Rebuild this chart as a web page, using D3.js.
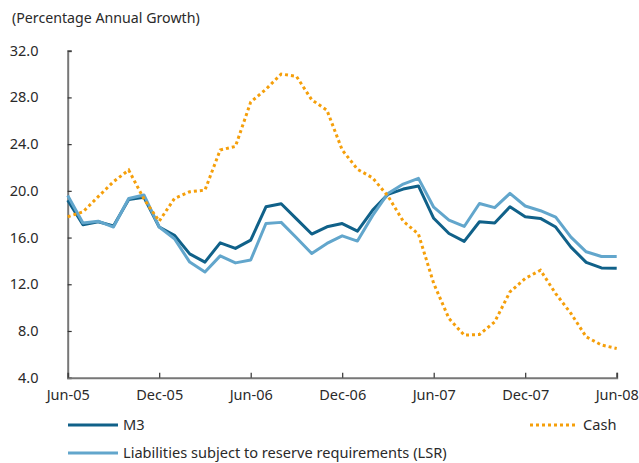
<!DOCTYPE html>
<html>
<head>
<meta charset="utf-8">
<script src="https://cdn.jsdelivr.net/npm/d3@7"></script>
<style>
  html, body { margin: 0; padding: 0; background: #fff; }
  svg { display: block; font-family: "Noto Sans", "Open Sans", sans-serif; }
</style>
</head>
<body>
<svg id="chart" width="639" height="463"></svg>
<script>
// Monthly observations, June 2005 to June 2008
const tickLabels = ["Jun-05", "Dec-05", "Jun-06", "Dec-06", "Jun-07", "Dec-07", "Jun-08"];
const yTicks = [4, 8, 12, 16, 20, 24, 28, 32];

const m3 = [19.2, 17.1, 17.35, 17.0, 19.25, 19.45, 16.9, 16.2, 14.6, 13.9, 15.55, 15.07, 15.78,
            18.63, 18.9, 17.6, 16.3, 16.92, 17.2, 16.55, 18.35, 19.7, 20.15, 20.42, 17.65,
            16.35, 15.67, 17.35, 17.24, 18.63, 17.78, 17.64, 16.9, 15.18, 13.88, 13.4, 13.38];
const lsr = [19.6, 17.25, 17.4, 16.9, 19.35, 19.65, 16.9, 15.9, 13.9, 13.05, 14.43, 13.83, 14.08,
             17.2, 17.3, 15.98, 14.64, 15.5, 16.15, 15.7, 17.9, 19.78, 20.58, 21.07, 18.6,
             17.5, 16.95, 18.92, 18.56, 19.78, 18.7, 18.3, 17.75, 16.03, 14.78, 14.38, 14.38];
const cash = [17.78, 18.2, 19.5, 20.78, 21.78, 19.3, 17.4, 19.35, 19.92, 20.06, 23.5, 23.8, 27.6,
              28.7, 30.0, 29.8, 27.8, 26.9, 23.5, 21.85, 21.1, 19.55, 17.4, 16.3, 12.07,
              9.07, 7.64, 7.7, 8.78, 11.35, 12.5, 13.2, 11.2, 9.5, 7.5, 6.8, 6.5];

const seriesNames = ["M3", "Cash", "Liabilities subject to reserve requirements (LSR)"];
const colors = { m3: "#106189", lsr: "#62a6cc", cash: "#f59f0a" };
const textColor = "#2a2a2a";

const svg = d3.select("#chart");
const x = d3.scaleLinear().domain([0, m3.length - 1]).range([67.7, 616.7]);
const y = d3.scaleLinear().domain([4, 32]).range([377.7, 50.7]);

svg.append("text")
  .attr("x", 12).attr("y", 23)
  .attr("font-size", 14.2).attr("fill", textColor)
  .text("(Percentage Annual Growth)");

// Y axis
const yAxis = svg.append("g")
  .attr("transform", `translate(${x.range()[0]},0)`)
  .call(d3.axisRight(y).tickValues(yTicks).tickSize(4).tickFormat(""));
yAxis.select(".domain").attr("stroke", "#777").attr("stroke-width", 2);
yAxis.selectAll(".tick line").attr("stroke", "#333").attr("stroke-width", 1.2);
yTicks.forEach(v => {
  svg.append("text")
    .attr("x", 38.5).attr("y", y(v) + 5)
    .attr("text-anchor", "end")
    .attr("font-size", 14.5).attr("fill", textColor)
    .text(d3.format(".1f")(v));
});

// X axis
const xAxis = svg.append("g")
  .attr("transform", `translate(0,${y.range()[0]})`)
  .call(d3.axisTop(x).tickValues(d3.range(0, m3.length, 6)).tickSize(5)
    .tickFormat((d, i) => tickLabels[i]));
xAxis.select(".domain").attr("stroke", "#777").attr("stroke-width", 2);
xAxis.selectAll(".tick line").attr("stroke", "#333").attr("stroke-width", 1.2);
xAxis.selectAll(".tick text")
  .attr("y", 22).attr("dy", 0)
  .attr("font-size", 14.5).attr("fill", textColor)
  .attr("font-family", "Noto Sans, Open Sans, sans-serif");

// Series lines
const line = d3.line().x((d, i) => x(i)).y(d => y(d));
svg.append("path").datum(m3).attr("d", line)
  .attr("fill", "none").attr("stroke", colors.m3).attr("stroke-width", 3)
  .attr("stroke-linejoin", "round");
svg.append("path").datum(lsr).attr("d", line)
  .attr("fill", "none").attr("stroke", colors.lsr).attr("stroke-width", 3)
  .attr("stroke-linejoin", "round");
svg.append("path").datum(cash).attr("d", line)
  .attr("fill", "none").attr("stroke", colors.cash).attr("stroke-width", 3)
  .attr("stroke-dasharray", "3,3");

// Legend
const legend = [
  { name: seriesNames[0], color: colors.m3, dash: null, x0: 68, x1: 118, y: 425 },
  { name: seriesNames[1], color: colors.cash, dash: "3,3", x0: 530, x1: 578, y: 425 },
  { name: seriesNames[2], color: colors.lsr, dash: null, x0: 68, x1: 118, y: 453 }
];
legend.forEach(l => {
  svg.append("line")
    .attr("x1", l.x0).attr("x2", l.x1).attr("y1", l.y).attr("y2", l.y)
    .attr("stroke", l.color).attr("stroke-width", 3)
    .attr("stroke-dasharray", l.dash);
  svg.append("text")
    .attr("x", l.x1 + 5).attr("y", l.y + 5)
    .attr("font-size", 14.6).attr("fill", textColor)
    .text(l.name);
});
</script>
</body>
</html>
